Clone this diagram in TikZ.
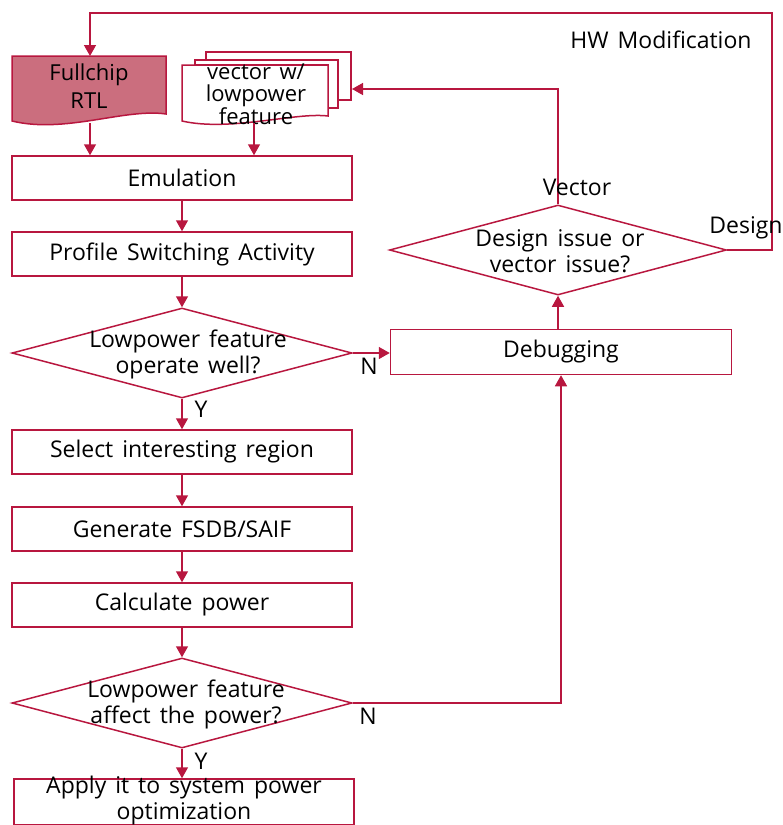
\documentclass[tikz,border=0pt]{standalone}
\usepackage{fontspec}
\setmainfont{Open Sans}[WordSpace=1.5]
\usetikzlibrary{arrows.meta,shapes.geometric}
\definecolor{lc}{HTML}{B8173F}
\definecolor{fc}{HTML}{CB6E7E}
\tikzset{
  box/.style={draw=lc,line width=1.5pt,fill=white,minimum width=340pt,minimum height=44pt,inner sep=0pt,font=\fontsize{23}{26}\selectfont},
  dia/.style={draw=lc,line width=1.5pt,diamond,minimum width=340pt,minimum height=90pt,inner sep=0pt},
  txt/.style={align=center,font=\fontsize{23}{26}\selectfont,inner sep=0pt},
  lbl/.style={font=\fontsize{23}{26}\selectfont,inner sep=0pt},
  arr/.style={draw=lc,line width=1.5pt,-{Triangle[length=11pt,width=12pt]}},
  ln/.style={draw=lc,line width=1.5pt}
}
\begin{document}
\begin{tikzpicture}[x=1pt,y=-1pt]
\useasboundingbox (0,0) rectangle (783,825);
% Fullchip RTL document
\path[ln,fill=fc] (12,56) -- (166,56) -- (166,114) .. controls (125,108) and (65,134) .. (12,121) -- cycle;
\node[txt,font=\fontsize{22}{28}\selectfont] (fcn) at (89,86) {Fullchip\\RTL};
\coordinate (fctop) at (90,56);
\coordinate (fcbot) at (90,123);
% vector multi document
\path[ln,fill=white] (206,52) -- (351,52) -- (351,100) -- (338,100) -- (338,60) -- (206,60) -- cycle;
\path[ln,fill=white] (195,60) -- (338,60) -- (338,108) -- (328,108) -- (328,65) -- (195,65) -- cycle;
\path[ln,fill=white] (182,65) -- (328,65) -- (328,116) .. controls (295,112) and (230,132) .. (182,121) -- cycle;
\node[txt,font=\fontsize{22}{22}\selectfont] (vec) at (256,94) {vector w/\\lowpower\\feature};
\coordinate (vecR) at (352,89);
\coordinate (vecbot) at (254,123);
% main column
\node[box] (emu) at (182,178) {Emulation};
\node[box] (prof) at (182,254) {Profile Switching Activity};
\node[dia] (d1) at (182,353) {};
\node[txt] (d1t) at (188,354) {Lowpower feature\\operate well?};
\node[box] (sel) at (182,452) {Select interesting region};
\node[box] (gen) at (182,529) {Generate FSDB/SAIF};
\node[box] (calc) at (182,605) {Calculate power};
\node[dia] (d3) at (182,703) {};
\node[txt] (d3t) at (186,704) {Lowpower feature\\affect the power?};
\node[box,minimum height=46pt] (app) at (184,802) {};
\node[txt] (appt) at (184,801) {Apply it to system power\\optimization};
% right column
\node[box,minimum width=341pt,minimum height=45pt] (dbg) at (561,352) {Debugging};
\node[dia,minimum width=337pt] (d2) at (558,250) {};
\node[txt] (d2t) at (560,251) {Design issue or\\vector issue?};
% connectors
\draw[arr] (fcbot) -- (fcbot |- emu.north);
\draw[arr] (vecbot) -- (vecbot |- emu.north);
\draw[arr] (emu) -- (prof);
\draw[arr] (prof) -- (d1);
\draw[arr] (d1) -- (sel);
\draw[arr] (sel) -- (gen);
\draw[arr] (gen) -- (calc);
\draw[arr] (calc) -- (d3);
\draw[arr] (d3.south) -- (d3.south |- app.north);
\draw[arr] (d1.east) -- (d1.east -| dbg.west);
\draw[arr] (d3.east) -- (dbg.south |- d3.east) -- (dbg.south);
\draw[arr] (dbg.north -| d2.south) -- (d2.south);
\draw[arr] (d2.north) -- (d2.north |- vecR) -- (vecR);
\draw[arr] (d2.east) -- (772,250) -- (772,13) -- (90,13) -- (fctop);
% labels
\node[lbl] (n1) at (369,366) {N};
\node[lbl] (y1) at (201,409) {Y};
\node[lbl] (n3) at (368,716) {N};
\node[lbl] (y3) at (201,761) {Y};
\node[lbl] (vl) at (577,187) {Vector};
\node[lbl] (dl) at (746,228) {Design};
\node[lbl] (hw) at (661,40) {HW Modification};
\end{tikzpicture}
\end{document}
